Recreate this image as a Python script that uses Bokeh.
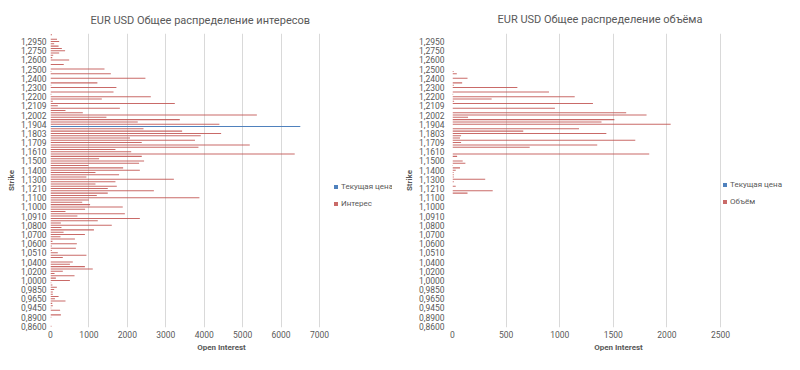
from bokeh.plotting import figure
from bokeh.models import Range1d, FixedTicker, Legend, LegendItem, ColumnDataSource
from bokeh.layouts import row
from bokeh.embed import file_html
from bokeh.resources import INLINE

# Visible strike labels (every 4th category of 128)
strike_ticks = ["0,8600", "0,8900", "0,9450", "0,9650", "0,9850", "1,0000", "1,0200", "1,0400",
                "1,0510", "1,0600", "1,0700", "1,0800", "1,0910", "1,1000", "1,1100", "1,1210",
                "1,1300", "1,1400", "1,1500", "1,1610", "1,1709", "1,1803", "1,1904", "1,2002",
                "1,2109", "1,2200", "1,2300", "1,2400", "1,2500", "1,2600", "1,2750", "1,2950"]
n_strikes = 128
label_step = 4

interest = [25, 0, 0, 0, 20, 270, 0, 250, 20, 60, 45, 390, 115, 210, 60, 60,
            95, 165, 50, 20, 505, 140, 625, 105, 320, 1100, 895, 505, 580, 0, 320, 935,
            190, 35, 660, 35, 685, 50, 635, 260, 895, 340, 1130, 285, 1595, 270, 1230, 2325,
            700, 1935, 390, 900, 1880, 1030, 825, 1000, 3875, 1205, 1490, 2690, 1490, 1725, 1170, 1690,
            3210, 935, 1785, 1170, 2325, 1890, 990, 2305, 2435, 1265, 2375, 6355, 2100, 1690, 3850, 5185,
            2375, 3760, 2070, 3910, 4440, 3425, 2420, 0, 4395, 2270, 3365, 1455, 5370, 840, 390, 1805,
            190, 3235, 60, 1335, 2610, 20, 1640, 0, 1715, 20, 1220, 0, 2470, 0, 1570, 20,
            1405, 0, 345, 0, 485, 45, 70, 225, 380, 295, 210, 95, 225, 170, 0, 40]

volume = [0] * 48 + [
            0, 0, 0, 0, 0, 0, 0, 0, 0, 0, 140, 375, 0, 30, 0, 12,
            305, 12, 12, 10, 30, 70, 5, 120, 95, 0, 43, 1835, 0, 0, 720, 1350,
            80, 1705, 70, 80, 1435, 660, 1180, 0, 2035, 1390, 1510, 145, 1810, 1620, 0, 955,
            0, 1310, 15, 365, 1140, 6, 900, 0, 605, 12, 90, 0, 140, 0, 40, 10] + [0] * 16

price_interest = [0] * 87 + [6500] + [0] * 40
price_volume = [0] * 128

RED = "#C0504D"
BLUE = "#4F81BD"
GREY = "#595959"
FONT = "Roboto"


def make_chart(title, values, price, series_name, axis_max, xstep, frame_extra,
               title_offset, title_standoff, border_left, border_top, border_bottom,
               label_standoff, legend_loc):
    idx = list(range(n_strikes))
    src = ColumnDataSource(dict(y=idx, v=values, p=price))
    p = figure(width=392, height=354, x_range=Range1d(0, axis_max + frame_extra),
               y_range=Range1d(-0.5, n_strikes - 0.5),
               output_backend="svg", toolbar_location=None,
               min_border_left=border_left, min_border_right=0,
               min_border_top=border_top, min_border_bottom=border_bottom)
    p.outline_line_color = None
    blue = p.hbar(y="y", left=0, right="p", height=0.45, source=src,
                  fill_color=BLUE, line_color=None)
    red = p.hbar(y="y", left=0, right="v", height=0.45, source=src,
                 fill_color=RED, fill_alpha=0.85, line_color=None)

    p.title.text = title
    p.title.align = "left"
    p.title.offset = title_offset
    p.title.text_font = FONT
    p.title.text_font_size = "11px"
    p.title.text_font_style = "normal"
    p.title.text_color = GREY
    p.title.standoff = title_standoff

    p.xaxis.ticker = FixedTicker(ticks=list(range(0, axis_max + 1, xstep)))
    p.yaxis.ticker = FixedTicker(ticks=list(range(0, n_strikes, label_step)))
    p.yaxis.major_label_overrides = {i * label_step: s for i, s in enumerate(strike_ticks)}
    for ax in (p.xaxis, p.yaxis):
        ax.axis_line_color = None
        ax.major_tick_line_color = None
        ax.minor_tick_line_color = None
        ax.major_tick_out = 0
        ax.major_label_text_font = FONT
        ax.major_label_text_font_size = "8.5px"
        ax.major_label_text_color = GREY
        ax.axis_label_text_font = FONT
        ax.axis_label_text_font_size = "8px"
        ax.axis_label_text_font_style = "bold"
        ax.axis_label_text_color = GREY
        ax.axis_label_standoff = 2
        ax.major_label_standoff = 3
    p.yaxis.major_label_standoff = label_standoff
    p.xaxis.axis_label = "Open Interest"
    p.yaxis.axis_label = "Strike"
    p.ygrid.grid_line_color = None
    p.xgrid.grid_line_color = "#D9D9D9"

    legend = Legend(items=[LegendItem(label="Текущая цена", renderers=[blue]),
                           LegendItem(label=series_name, renderers=[red])],
                    location=legend_loc)
    legend.label_text_font = FONT
    legend.label_text_font_size = "8px"
    legend.label_text_color = GREY
    legend.glyph_width = 5
    legend.glyph_height = 5
    legend.label_height = 11
    legend.label_standoff = 3
    legend.spacing = 6
    legend.padding = 0
    legend.margin = 0
    legend.border_line_color = None
    legend.background_fill_alpha = 0
    p.add_layout(legend)
    return p


p1 = make_chart("EUR USD Общее распределение интересов", interest, price_interest, "Интерес",
                7000, 1000, 1900, 40, 13, 50, 31, 23, 4, (283, 118))
p2 = make_chart("EUR USD Общее распределение объёма", volume, price_volume, "Объём",
                2500, 500, 597, 45, 15, 60, 33, 23, 8, (270, 120))

layout = row(p1, p2)
open("out.html", "w").write(file_html(layout, INLINE))
